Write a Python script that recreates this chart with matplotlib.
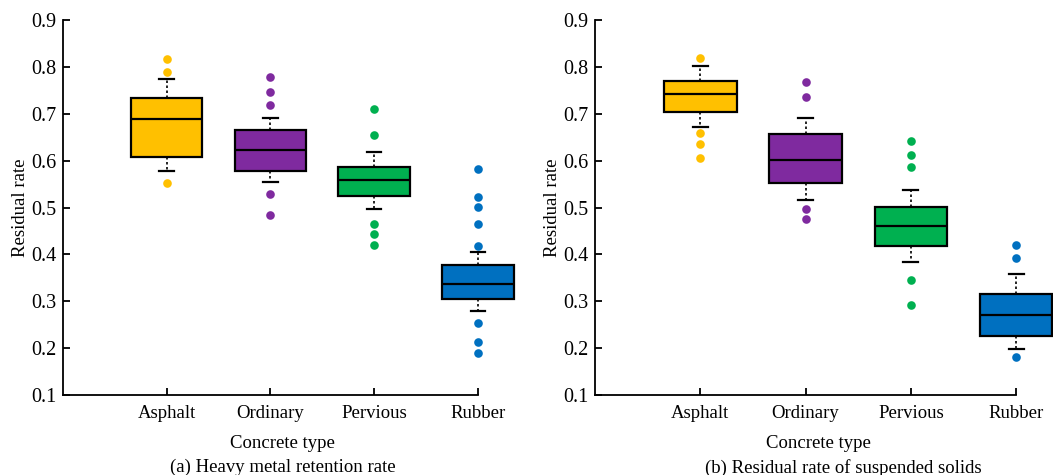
import numpy as np
import matplotlib
matplotlib.use('Agg')
import matplotlib.pyplot as plt

plt.rcParams['font.family'] = ['Liberation Serif', 'DejaVu Serif']
plt.rcParams['font.size'] = 13

types = ['Asphalt', 'Ordinary', 'Pervious', 'Rubber']
colors = ['#FFC000', '#7F2A9F', '#00B050', '#0070C0']

# (a) heavy metal retention rate
a_q1 = [0.608, 0.578, 0.525, 0.306]
a_med = [0.689, 0.622, 0.559, 0.337]
a_q3 = [0.733, 0.665, 0.587, 0.377]
a_lo = [0.577, 0.554, 0.498, 0.280]
a_hi = [0.774, 0.692, 0.618, 0.406]
a_out = [[0.816, 0.789, 0.552],
         [0.778, 0.746, 0.718, 0.528, 0.484],
         [0.711, 0.655, 0.464, 0.443, 0.420],
         [0.583, 0.523, 0.502, 0.464, 0.419, 0.254, 0.213, 0.189]]

# (b) residual rate of suspended solids
b_q1 = [0.703, 0.553, 0.419, 0.226]
b_med = [0.743, 0.602, 0.460, 0.270]
b_q3 = [0.769, 0.657, 0.502, 0.316]
b_lo = [0.672, 0.516, 0.385, 0.199]
b_hi = [0.802, 0.692, 0.538, 0.358]
b_out = [[0.818, 0.659, 0.635, 0.605],
         [0.768, 0.736, 0.496, 0.475],
         [0.641, 0.613, 0.586, 0.345, 0.292],
         [0.421, 0.393, 0.181]]


def draw(ax, q1, med, q3, lo, hi, out, caption, cap_x):
    stats = []
    for i in range(len(types)):
        stats.append(dict(q1=q1[i], med=med[i], q3=q3[i], whislo=lo[i],
                          whishi=hi[i], fliers=out[i], label=types[i]))
    pos = np.arange(1, len(types) + 1)
    art = ax.bxp(stats, positions=pos, widths=0.69, patch_artist=True,
                 showfliers=False, capwidths=0.14,
                 boxprops=dict(edgecolor='black', linewidth=1.6),
                 medianprops=dict(color='black', linewidth=1.6),
                 whiskerprops=dict(color='black', linewidth=1.2, linestyle=(0, (1.5, 1.5))),
                 capprops=dict(color='black', linewidth=1.6))
    for patch, c in zip(art['boxes'], colors):
        patch.set_facecolor(c)
    for key in art:
        for a in art[key]:
            a.set_clip_on(False)
    for i, pts in enumerate(out):
        ax.plot([pos[i]] * len(pts), pts, 'o', color=colors[i], ms=6.2,
                mec='none', clip_on=False, zorder=3)
    ax.set_xlim(0, 4)
    ax.set_ylim(0.1, 0.9)
    yt = np.arange(0.1, 0.91, 0.1)
    ax.set_yticks(yt)
    ax.set_yticklabels(['%.1f' % v for v in yt], fontsize=14.5)
    ax.set_xticks(pos)
    ax.set_xticklabels(types, fontsize=13.5)
    ax.tick_params(direction='in', length=5, width=1.3, pad=5)
    ax.tick_params(axis='x', pad=7)
    for s in ['top', 'right']:
        ax.spines[s].set_visible(False)
    for s in ['left', 'bottom']:
        ax.spines[s].set_linewidth(1.3)
    ax.set_ylabel('Residual rate', fontsize=13.5, labelpad=1)
    ax.set_xlabel('Concrete type', fontsize=13.5)
    ax.xaxis.set_label_coords(0.53, -0.105)
    ax.text(cap_x, -0.17, caption, transform=ax.transAxes, ha='center',
            va='top', fontsize=13.5)


fig = plt.figure(figsize=(10.53, 4.75), dpi=100)
ax1 = fig.add_axes([0.0598, 0.168, 0.394, 0.79])
ax2 = fig.add_axes([0.565, 0.168, 0.400, 0.79])
draw(ax1, a_q1, a_med, a_q3, a_lo, a_hi, a_out, '(a) Heavy metal retention rate', 0.53)
draw(ax2, b_q1, b_med, b_q3, b_lo, b_hi, b_out, '(b) Residual rate of suspended solids', 0.59)
fig.savefig('out.png', dpi=100)
